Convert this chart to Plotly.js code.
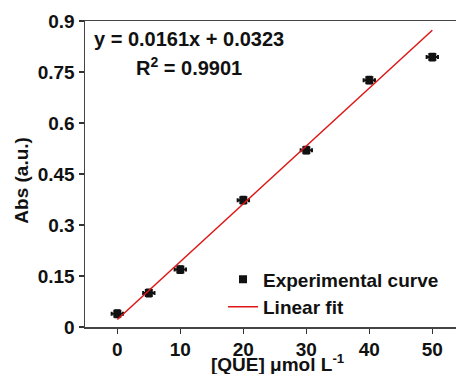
<!DOCTYPE html>
<html>
<head>
<meta charset="utf-8">
<script src="https://cdn.plot.ly/plotly-3.0.1.min.js"></script>
<style>html,body{margin:0;padding:0;background:#fff;}#chart{width:456px;height:374px;}</style>
</head>
<body>
<div id="chart"></div>
<script>
// Experimental data
const concentration = [0, 5, 10, 20, 30, 40, 50];
const absorbance = [0.039, 0.100, 0.169, 0.373, 0.520, 0.726, 0.794];
const errX = [0.9, 0.9, 0.9, 0.9, 0.9, 0.9, 0.9];
const errY = [0.010, 0.010, 0.010, 0.010, 0.010, 0.010, 0.010];
// Linear fit line as drawn
const fitX = [0, 50];
const fitY = [0.022, 0.873];
const xTicks = [0, 10, 20, 30, 40, 50];
const yTicks = [0, 0.15, 0.3, 0.45, 0.6, 0.75, 0.9];
const yTickText = ['0', '0.15', '0.3', '0.45', '0.6', '0.75', '0.9'];

const FONT = 'Liberation Sans, Arial, sans-serif';
const fs = 19;

const traces = [
  {
    x: concentration, y: absorbance, type: 'scatter', mode: 'markers',
    name: '<b>Experimental curve</b>',
    marker: {symbol: 'square', size: 8, color: '#111'},
    error_x: {type: 'data', array: errX, visible: true, color: '#111', thickness: 2, width: 2},
    error_y: {type: 'data', array: errY, visible: true, color: '#111', thickness: 2, width: 3}
  },
  {
    x: fitX, y: fitY, type: 'scatter', mode: 'lines',
    name: '<b>Linear fit</b>',
    line: {color: 'rgb(222,22,22)', width: 1.5}
  }
];

const layout = {
  width: 456, height: 374,
  margin: {l: 85, r: 0, t: 21, b: 47},
  paper_bgcolor: '#fff', plot_bgcolor: '#fff',
  font: {family: FONT, size: fs, color: '#111'},
  showlegend: true,
  legend: {
    x: 0.372, y: 0.218, xanchor: 'left', yanchor: 'top',
    bgcolor: 'rgba(0,0,0,0)', font: {family: FONT, size: fs, color: '#111'},
    tracegroupgap: 0
  },
  xaxis: {
    range: [-5.13, 53.76], tickvals: xTicks, ticks: 'outside', ticklen: 5, tickwidth: 1.5,
    tickcolor: '#333', showline: true, linecolor: '#444', linewidth: 1.5, mirror: true,
    showgrid: false, zeroline: false,
    tickfont: {family: FONT, size: fs, color: '#111', weight: 'bold'}
  },
  yaxis: {
    range: [0, 0.9], tickvals: yTicks, ticktext: yTickText, ticks: 'outside', ticklen: 5, tickwidth: 1.5,
    tickcolor: '#333', showline: true, linecolor: '#444', linewidth: 1.5,
    showgrid: false, zeroline: false,
    tickfont: {family: FONT, size: fs, color: '#111', weight: 'bold'}
  },
  annotations: [
    {xref: 'paper', yref: 'paper', x: 0.52, y: -0.163, xanchor: 'center', yanchor: 'bottom', showarrow: false,
     text: '<b>[QUE] μmol L<sup>-1</sup></b>', font: {family: FONT, size: fs, color: '#111'}},
    {xref: 'paper', yref: 'paper', x: -0.171, y: 0.48, xanchor: 'center', yanchor: 'middle', showarrow: false,
     textangle: -90, text: '<b>Abs (a.u.)</b>', font: {family: FONT, size: fs, color: '#111'}},
    {xref: 'paper', yref: 'paper', x: 0.28, y: 0.94, xanchor: 'center', yanchor: 'middle', showarrow: false,
     text: '<b>y = 0.0161x + 0.0323</b>', font: {family: FONT, size: 20, color: '#111'}},
    {xref: 'paper', yref: 'paper', x: 0.28, y: 0.852, xanchor: 'center', yanchor: 'middle', showarrow: false,
     text: '<b>R<sup>2</sup> = 0.9901</b>', font: {family: FONT, size: 20, color: '#111'}}
  ]
};

Plotly.newPlot('chart', traces, layout, {displayModeBar: false, staticPlot: true});
</script>
</body>
</html>
